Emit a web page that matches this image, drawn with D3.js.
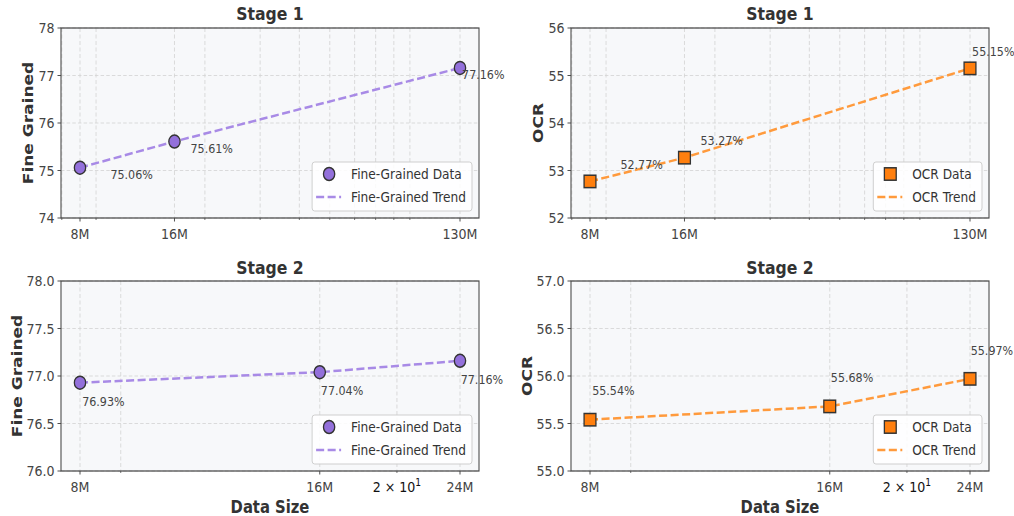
<!DOCTYPE html>
<html>
<head>
<meta charset="utf-8">
<script src="https://cdn.jsdelivr.net/npm/d3@7"></script>
<style>
  html, body { margin: 0; padding: 0; background: #fff; }
  svg { display: block; }
  text { font-family: "DejaVu Sans", sans-serif; }
</style>
</head>
<body>
<div id="chart"></div>
<script>
// data sizes (millions of samples) per stage
const stage1Sizes = [8, 16, 130];
const stage1Labels = ["8M", "16M", "130M"];
const stage2Sizes = [8, 16, 24];
const stage2Labels = ["8M", "16M", "24M"];

// scores
const fineStage1 = [75.06, 75.61, 77.16];
const ocrStage1 = [52.77, 53.27, 55.15];
const fineStage2 = [76.93, 77.04, 77.16];
const ocrStage2 = [55.54, 55.68, 55.97];

// y ticks
const fineTicks1 = [74, 75, 76, 77, 78];
const ocrTicks1 = [52, 53, 54, 55, 56];
const fineTicks2 = [76.0, 76.5, 77.0, 77.5, 78.0];
const ocrTicks2 = [55.0, 55.5, 56.0, 56.5, 57.0];

// labelled minor tick on the stage 2 axes
const stage2MinorLabels = [20];

// the picture is squeezed horizontally, draw wide and squash
const S = 0.87;
const W = 1014 / S, H = 516;

const svg = d3.select("#chart").append("svg")
  .attr("width", 1014).attr("height", H)
  .attr("viewBox", `0 0 ${W} ${H}`)
  .attr("preserveAspectRatio", "none");

const fineStyle = { fill: "#9370DB", line: "#a88ae6", marker: "circle", name: "Fine-Grained" };
const ocrStyle = { fill: "#ff7f0e", line: "#ff9a3c", marker: "square", name: "OCR" };

const panels = [
  { col: 0, row: 0, title: "Stage 1", ylab: "Fine Grained", xs: stage1Sizes, xl: stage1Labels, ys: fineStage1, ticks: fineTicks1, fmt: d3.format("d"), st: fineStyle, dx: 2, dy: -0.15, minorLab: [] },
  { col: 1, row: 0, title: "Stage 1", ylab: "OCR", xs: stage1Sizes, xl: stage1Labels, ys: ocrStage1, ticks: ocrTicks1, fmt: d3.format("d"), st: ocrStyle, dx: 2, dy: 0.35, minorLab: [] },
  { col: 0, row: 1, title: "Stage 2", ylab: "Fine Grained", xs: stage2Sizes, xl: stage2Labels, ys: fineStage2, ticks: fineTicks2, fmt: d3.format(".1f"), st: fineStyle, dx: 0.05, dy: -0.2, minorLab: stage2MinorLabels },
  { col: 1, row: 1, title: "Stage 2", ylab: "OCR", xs: stage2Sizes, xl: stage2Labels, ys: ocrStage2, ticks: ocrTicks2, fmt: d3.format(".1f"), st: ocrStyle, dx: 0.05, dy: 0.3, minorLab: stage2MinorLabels }
];

const colX = [61, 571], rowY = [28, 281];
const pw = 418 / S, ph = 190;

panels.forEach(p => {
  const g = svg.append("g")
    .attr("transform", `translate(${colX[p.col] / S},${rowY[p.row]})`);

  // log x with matplotlib style 5% margins
  const l0 = Math.log10(d3.min(p.xs)), l1 = Math.log10(d3.max(p.xs));
  const m = (l1 - l0) * 0.05;
  const lo = Math.pow(10, l0 - m), hi = Math.pow(10, l1 + m);
  const x = d3.scaleLog().domain([lo, hi]).range([0, pw]);
  const y = d3.scaleLinear().domain(d3.extent(p.ticks)).range([ph, 0]);

  // minor ticks 2..9 x 10^k
  const minors = [];
  for (let k = Math.floor(Math.log10(lo)); k <= Math.ceil(Math.log10(hi)); k++) {
    for (let s = 2; s <= 9; s++) {
      const v = s * Math.pow(10, k);
      if (v >= lo && v <= hi && !p.xs.includes(v)) minors.push(v);
    }
  }

  g.append("rect").attr("width", pw).attr("height", ph).attr("fill", "#f7f8fa");

  // grid
  g.selectAll(".vg").data(p.xs.concat(minors)).enter().append("line")
    .attr("x1", d => x(d)).attr("x2", d => x(d)).attr("y1", 0).attr("y2", ph)
    .attr("stroke", "#d4d4d4").attr("stroke-width", 0.9).attr("stroke-dasharray", "4,2.5");
  g.selectAll(".hg").data(p.ticks).enter().append("line")
    .attr("x1", 0).attr("x2", pw).attr("y1", d => y(d)).attr("y2", d => y(d))
    .attr("stroke", "#d4d4d4").attr("stroke-width", 0.9).attr("stroke-dasharray", "4,2.5");

  // trend line
  const line = d3.line().x((d, i) => x(p.xs[i])).y(d => y(d));
  g.append("path").datum(p.ys).attr("d", line)
    .attr("fill", "none").attr("stroke", p.st.line).attr("stroke-width", 2.5)
    .attr("stroke-dasharray", "9.25,4");

  // markers
  const drawMarker = (sel, cx, cy) => {
    if (p.st.marker === "circle") {
      sel.append("ellipse").attr("cx", cx).attr("cy", cy).attr("rx", 6.5).attr("ry", 6.5)
        .attr("fill", p.st.fill).attr("stroke", "#333").attr("stroke-width", 1.5);
    } else {
      sel.append("rect").attr("x", cx - 6.8).attr("y", cy - 6.2).attr("width", 13.6).attr("height", 12.4)
        .attr("fill", p.st.fill).attr("stroke", "#333").attr("stroke-width", 1.5);
    }
  };
  p.ys.forEach((v, i) => drawMarker(g, x(p.xs[i]), y(v)));

  // value annotations
  g.selectAll(".ann").data(p.ys).enter().append("text")
    .attr("x", (d, i) => x(p.xs[i] + p.dx))
    .attr("y", d => y(d + p.dy))
    .attr("dominant-baseline", "central")
    .attr("font-size", 12.8).attr("fill", "#444")
    .text(d => d.toFixed(2) + "%");

  // spines
  g.append("rect").attr("width", pw).attr("height", ph)
    .attr("fill", "none").attr("stroke", "#444").attr("stroke-width", 1.2);

  // y ticks
  g.selectAll(".yt").data(p.ticks).enter().append("line")
    .attr("x1", -3.5 / S).attr("x2", 0).attr("y1", d => y(d)).attr("y2", d => y(d))
    .attr("stroke", "#444").attr("stroke-width", 1);
  g.selectAll(".yl").data(p.ticks).enter().append("text")
    .attr("x", -6.5 / S).attr("y", d => y(d))
    .attr("text-anchor", "end").attr("dominant-baseline", "central")
    .attr("font-size", 14.5).attr("fill", "#444")
    .text(d => p.fmt(d));

  // x ticks
  g.selectAll(".xt").data(p.xs).enter().append("line")
    .attr("x1", d => x(d)).attr("x2", d => x(d)).attr("y1", ph).attr("y2", ph + 3.5)
    .attr("stroke", "#444").attr("stroke-width", 1);
  g.selectAll(".xm").data(minors).enter().append("line")
    .attr("x1", d => x(d)).attr("x2", d => x(d)).attr("y1", ph).attr("y2", ph + 2)
    .attr("stroke", "#444").attr("stroke-width", 0.8);
  g.selectAll(".xl").data(p.xs).enter().append("text")
    .attr("x", d => x(d)).attr("y", ph + 21.5)
    .attr("text-anchor", "middle").attr("font-size", 14.5).attr("fill", "#444")
    .text((d, i) => p.xl[i]);
  const ml = g.selectAll(".xml").data(p.minorLab).enter().append("text")
    .attr("x", d => x(d)).attr("y", ph + 21.5)
    .attr("text-anchor", "middle").attr("font-size", 14.5).attr("fill", "#111");
  ml.append("tspan").text(d => String(d / 10) + " \u00d7 10");
  ml.append("tspan").attr("dy", -6).attr("font-size", 10.5).text("1");

  // title
  g.append("text").attr("x", pw / 2).attr("y", p.row === 0 ? -8 : -7)
    .attr("text-anchor", "middle").attr("font-size", 18).attr("font-weight", "bold")
    .attr("fill", "#333").text(p.title);

  // y label
  const yOff = p.row === 0 ? -28 : -39;
  g.append("text")
    .attr("transform", `translate(${yOff / S},${ph / 2}) rotate(-90)`)
    .attr("text-anchor", "middle").attr("font-size", 17).attr("font-weight", "bold")
    .attr("fill", "#333").text(p.ylab);

  // x label on bottom row
  if (p.row === 1) {
    g.append("text").attr("x", pw / 2).attr("y", 513 - rowY[1])
      .attr("text-anchor", "middle").attr("font-size", 17).attr("font-weight", "bold")
      .attr("fill", "#333").text("Data Size");
  }

  // legend, lower right
  const lg = g.append("g");
  const box = lg.append("rect").attr("rx", 3).attr("ry", 3)
    .attr("fill", "#fff").attr("fill-opacity", 0.85).attr("stroke", "#cccccc").attr("stroke-width", 1);
  const names = [p.st.name + " Data", p.st.name + " Trend"];
  const texts = names.map((n, i) => lg.append("text")
    .attr("x", 39 / S).attr("y", 12 + i * 23)
    .attr("dominant-baseline", "central").attr("font-size", 14).attr("fill", "#333").text(n));
  const tw = d3.max(texts, t => t.node().getComputedTextLength());
  const bw = 39 / S + tw + 6 / S, bh = 49;
  box.attr("width", bw).attr("height", bh);
  drawMarker(lg, 17 / S, 12);
  lg.append("line").attr("x1", 4 / S).attr("x2", 29 / S).attr("y1", 35).attr("y2", 35)
    .attr("stroke", p.st.line).attr("stroke-width", 2.5).attr("stroke-dasharray", "9.25,4");
  lg.attr("transform", `translate(${pw - 7 / S - bw},${ph - 7 - bh})`);
});
</script>
</body>
</html>
